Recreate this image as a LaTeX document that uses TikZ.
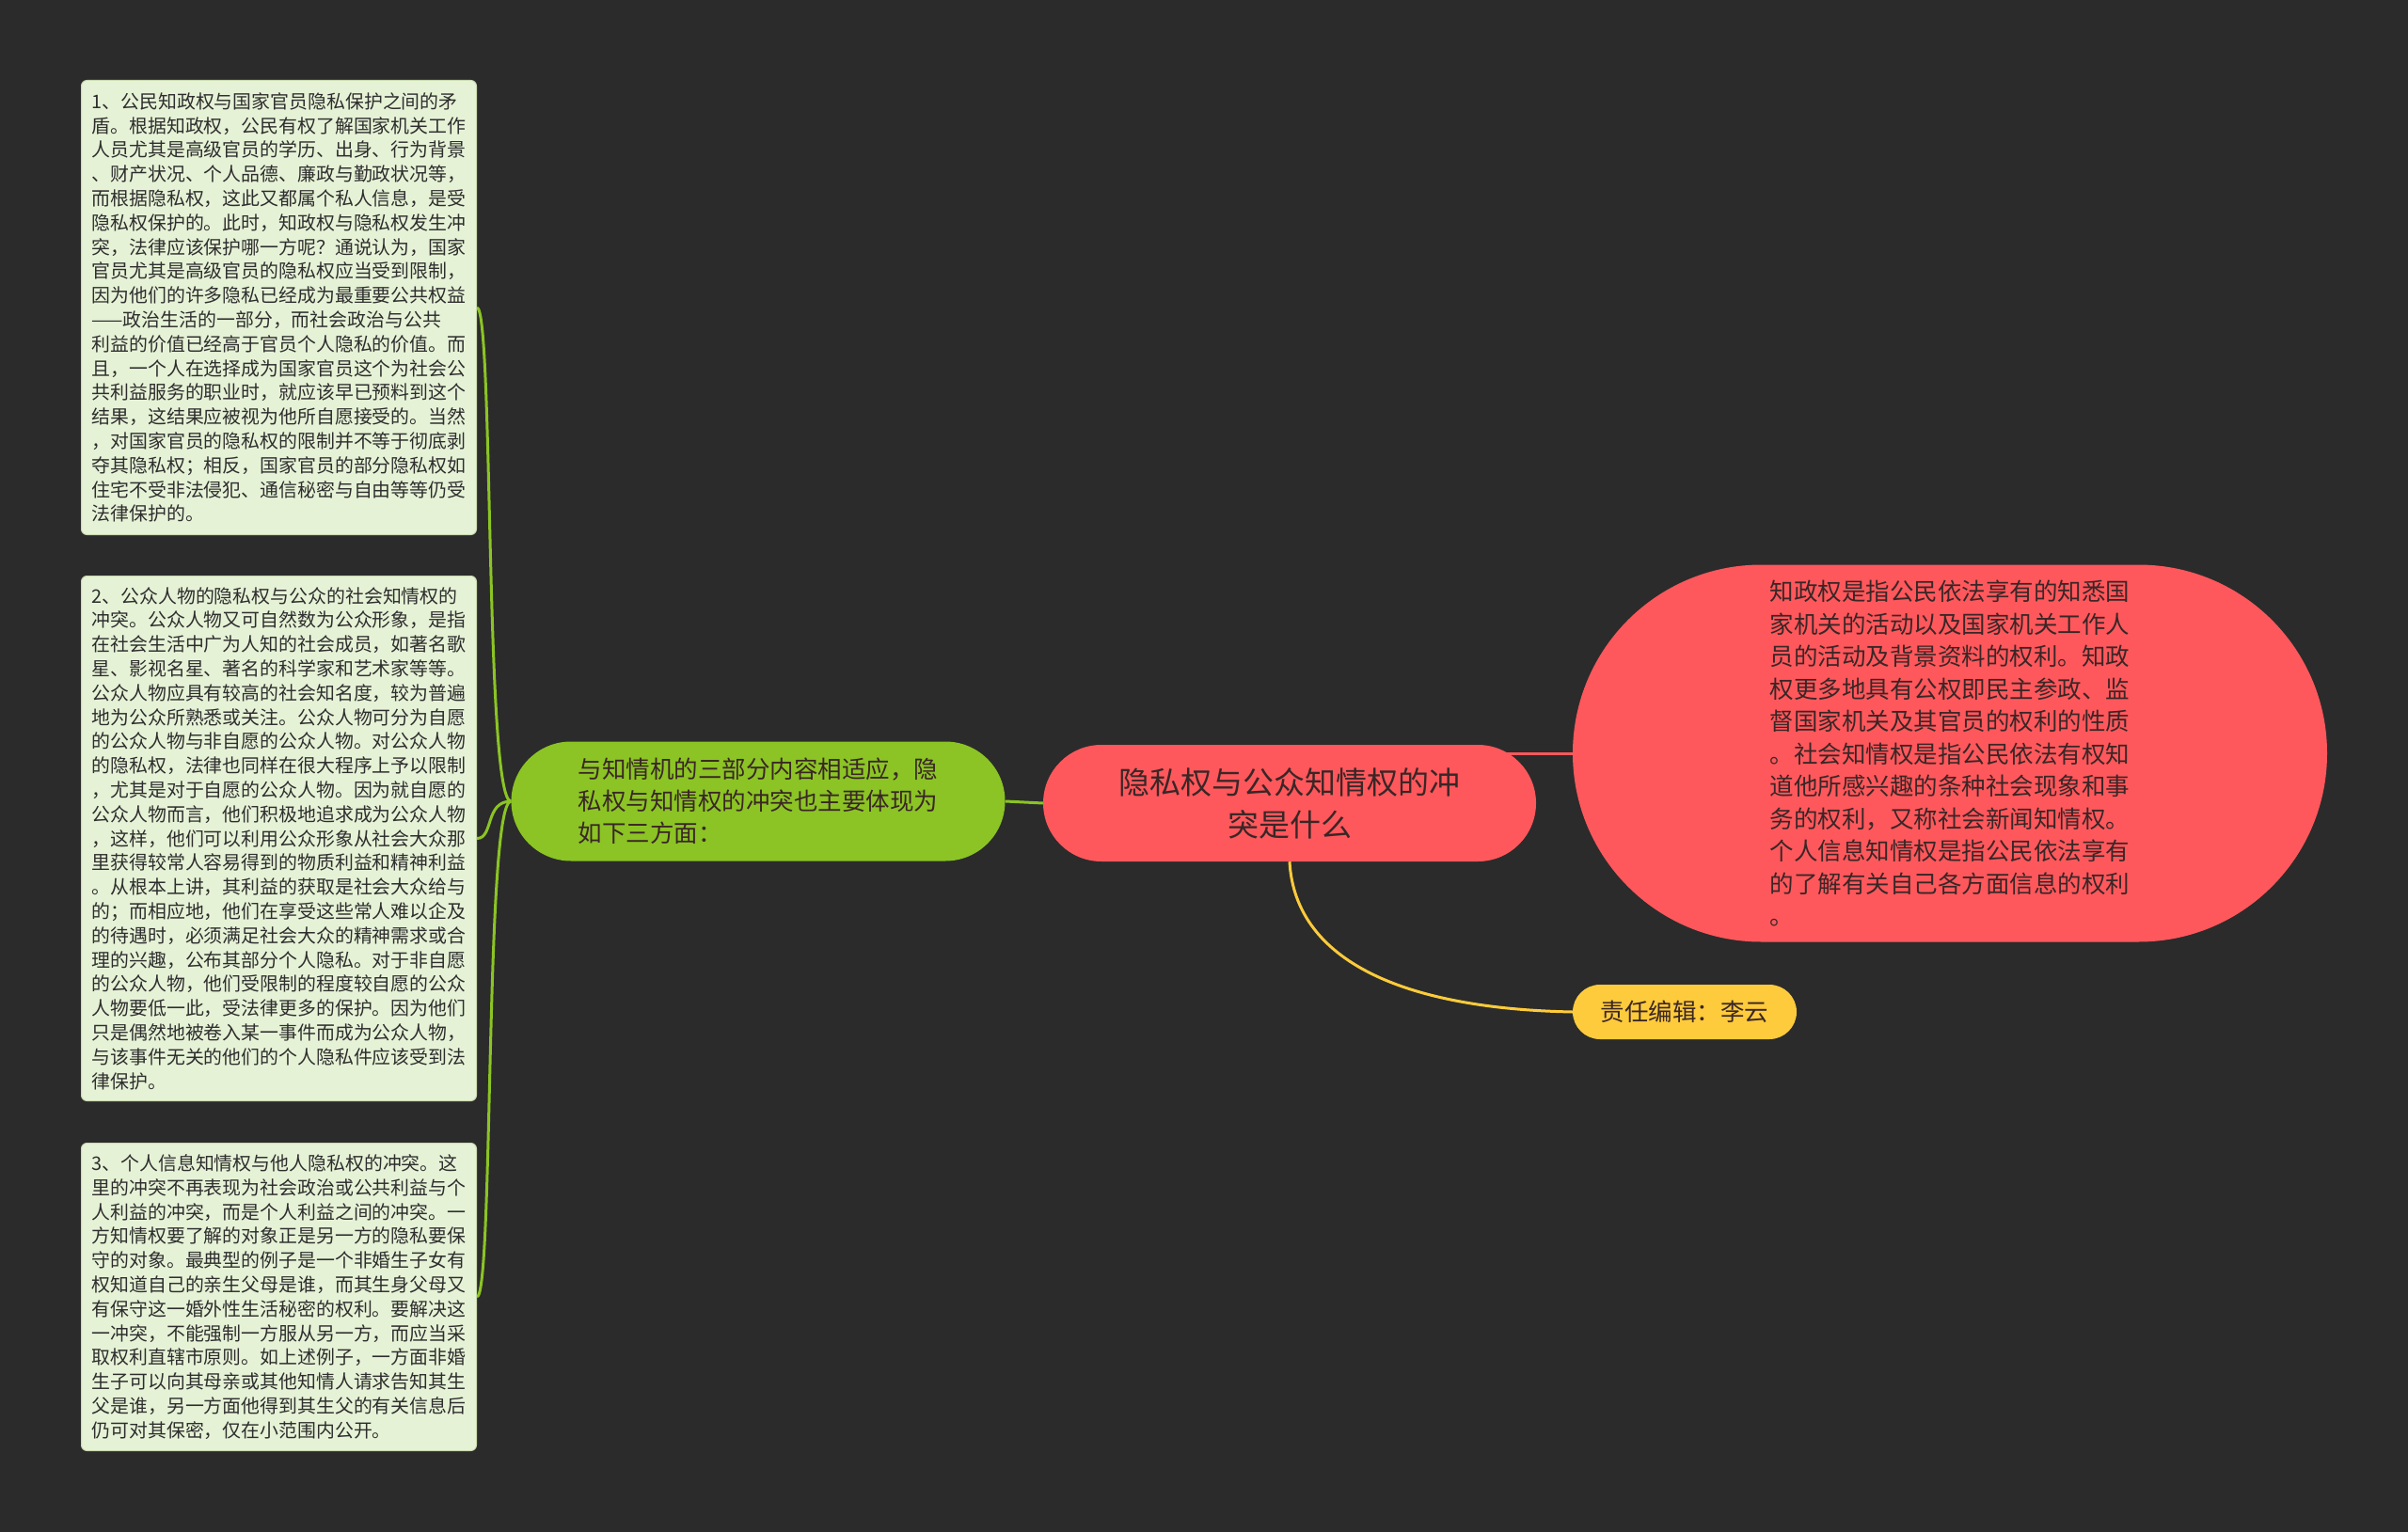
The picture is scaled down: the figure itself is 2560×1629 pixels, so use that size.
\documentclass[tikz,border=0pt]{standalone}
\usepackage{fontspec}
\setmainfont{Noto Sans CJK SC}
\usetikzlibrary{shapes.misc,backgrounds}
\definecolor{bgc}{HTML}{2B2B2B}
\definecolor{leaf}{HTML}{E6F2D6}
\definecolor{leafedge}{HTML}{CADAB0}
\definecolor{leaftext}{HTML}{2E2E2E}
\definecolor{gnode}{HTML}{8BC424}
\definecolor{rnode}{HTML}{FF585C}
\definecolor{ynode}{HTML}{FDCB3B}
\definecolor{ntext}{HTML}{3A2626}
\tikzset{
  leafbox/.style={rectangle, rounded corners=6pt, fill=leaf, draw=leafedge, line width=1pt,
    inner xsep=11pt, inner ysep=4pt, align=left, text=leaftext, minimum width=420pt,
    font=\fontsize{19.9}{25.8}\selectfont, anchor=north west},
  pill/.style={rounded rectangle, inner sep=0pt, text=ntext},
  gline/.style={draw=gnode, line width=3pt},
  rline/.style={draw=rnode, line width=3pt},
  yline/.style={draw=ynode, line width=3pt}
}
\begin{document}
\begin{tikzpicture}[x=1pt,y=-1pt]
\useasboundingbox (0,0) rectangle (2560,1629);

\node[leafbox, minimum height=483pt] (b1) at (86,85) {1、公民知政权与国家官员隐私保护之间的矛\\
盾。根据知政权，公民有权了解国家机关工作\\
人员尤其是高级官员的学历、出身、行为背景\\
、财产状况、个人品德、廉政与勤政状况等，\\
而根据隐私权，这此又都属个私人信息，是受\\
隐私权保护的。此时，知政权与隐私权发生冲\\
突，法律应该保护哪一方呢？通说认为，国家\\
官员尤其是高级官员的隐私权应当受到限制，\\
因为他们的许多隐私已经成为最重要公共权益\\
——政治生活的一部分，而社会政治与公共\\
利益的价值已经高于官员个人隐私的价值。而\\
且，一个人在选择成为国家官员这个为社会公\\
共利益服务的职业时，就应该早已预料到这个\\
结果，这结果应被视为他所自愿接受的。当然\\
，对国家官员的隐私权的限制并不等于彻底剥\\
夺其隐私权；相反，国家官员的部分隐私权如\\
住宅不受非法侵犯、通信秘密与自由等等仍受\\
法律保护的。};

\node[leafbox, minimum height=558pt] (b2) at (86,612) {2、公众人物的隐私权与公众的社会知情权的\\
冲突。公众人物又可自然数为公众形象，是指\\
在社会生活中广为人知的社会成员，如著名歌\\
星、影视名星、著名的科学家和艺术家等等。\\
公众人物应具有较高的社会知名度，较为普遍\\
地为公众所熟悉或关注。公众人物可分为自愿\\
的公众人物与非自愿的公众人物。对公众人物\\
的隐私权，法律也同样在很大程序上予以限制\\
，尤其是对于自愿的公众人物。因为就自愿的\\
公众人物而言，他们积极地追求成为公众人物\\
，这样，他们可以利用公众形象从社会大众那\\
里获得较常人容易得到的物质利益和精神利益\\
。从根本上讲，其利益的获取是社会大众给与\\
的；而相应地，他们在享受这些常人难以企及\\
的待遇时，必须满足社会大众的精神需求或合\\
理的兴趣，公布其部分个人隐私。对于非自愿\\
的公众人物，他们受限制的程度较自愿的公众\\
人物要低一此，受法律更多的保护。因为他们\\
只是偶然地被卷入某一事件而成为公众人物，\\
与该事件无关的他们的个人隐私件应该受到法\\
律保护。};

\node[leafbox, minimum height=327pt] (b3) at (86,1215) {3、个人信息知情权与他人隐私权的冲突。这\\
里的冲突不再表现为社会政治或公共利益与个\\
人利益的冲突，而是个人利益之间的冲突。一\\
方知情权要了解的对象正是另一方的隐私要保\\
守的对象。最典型的例子是一个非婚生子女有\\
权知道自己的亲生父母是谁，而其生身父母又\\
有保守这一婚外性生活秘密的权利。要解决这\\
一冲突，不能强制一方服从另一方，而应当采\\
取权利直辖市原则。如上述例子，一方面非婚\\
生子可以向其母亲或其他知情人请求告知其生\\
父是谁，另一方面他得到其生父的有关信息后\\
仍可对其保密，仅在小范围内公开。};

\node[pill, fill=gnode, minimum width=525pt, minimum height=127pt, align=left,
  font=\fontsize{25.5}{34}\selectfont] (g) at (806,852) {与知情机的三部分内容相适应，隐\\私权与知情权的冲突也主要体现为\\如下三方面：};

\node[pill, fill=rnode, minimum width=524pt, minimum height=124pt, align=center,
  font=\fontsize{33}{45}\selectfont] (cen) at (1371,854) {隐私权与公众知情权的冲\\突是什么};

\node[pill, fill=rnode, minimum width=802pt, minimum height=401pt, align=left,
  font=\fontsize{25.5}{34.5}\selectfont] (big) at (2073,801) {知政权是指公民依法享有的知悉国\\
家机关的活动以及国家机关工作人\\
员的活动及背景资料的权利。知政\\
权更多地具有公权即民主参政、监\\
督国家机关及其官员的权利的性质\\
。社会知情权是指公民依法有权知\\
道他所感兴趣的条种社会现象和事\\
务的权利，又称社会新闻知情权。\\
个人信息知情权是指公民依法享有\\
的了解有关自己各方面信息的权利\\
。};

\node[pill, fill=ynode, minimum width=238pt, minimum height=58pt,
  font=\fontsize{25.5}{34}\selectfont] (yel) at (1791,1076) {责任编辑：李云};

\begin{scope}[on background layer]
\fill[bgc] (0,0) rectangle (2560,1629);
\draw[gline] (g.east) -- (cen.west);
\draw[rline] (big.west) -- (big.west -| cen.center);
\draw[yline] (cen.south) .. controls +(5,94) and +(-202,-4) .. (yel.west);
\draw[gline] (g.west) .. controls +(-28,0) and +(18,0) .. (b1.east);
\draw[gline] (g.west) .. controls +(-28,0) and +(18,0) .. (b2.east);
\draw[gline] (g.west) .. controls +(-28,0) and +(18,0) .. (b3.east);
\end{scope}
\end{tikzpicture}
\end{document}
